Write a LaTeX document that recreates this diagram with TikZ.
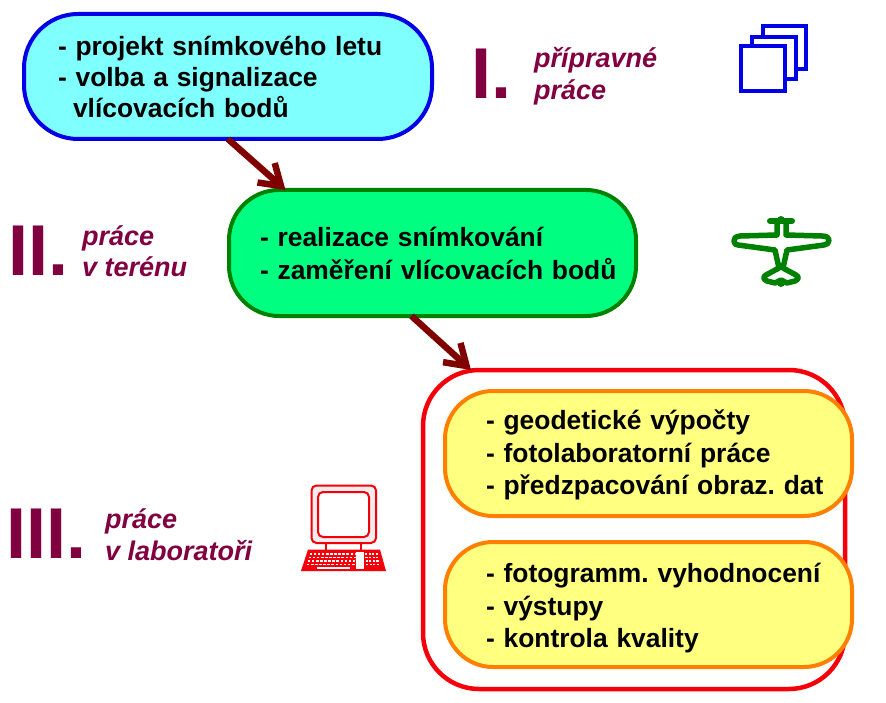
\documentclass[tikz,border=0pt]{standalone}
\usepackage{fontspec}
\setmainfont{Liberation Sans}
\usetikzlibrary{arrows.meta,calc}
\definecolor{bluel}{RGB}{0,0,230}
\definecolor{cyanf}{RGB}{128,255,255}
\definecolor{greenf}{RGB}{0,255,128}
\definecolor{greenl}{RGB}{0,128,0}
\definecolor{redl}{RGB}{245,0,10}
\definecolor{yellowf}{RGB}{255,255,128}
\definecolor{orangel}{RGB}{255,128,0}
\definecolor{plum}{RGB}{128,0,64}
\definecolor{arrowc}{RGB}{128,0,0}
\definecolor{bezel}{RGB}{242,236,236}
\tikzset{
 boxbase/.style={rounded corners=#1,line width=4pt,outer sep=0pt,inner ysep=0pt,inner xsep=0pt,font=\fontsize{26.4}{31}\selectfont\bfseries\frenchspacing,align=left,anchor=north west},
 bluebox/.style={boxbase=54pt,draw=bluel,fill=cyanf,minimum width=408pt,minimum height=125pt,text width=408pt,execute at begin node={\leftskip=34pt\relax}},
 greenbox/.style={boxbase=50pt,draw=greenl,fill=greenf,minimum width=407pt,minimum height=126pt,text width=407pt,execute at begin node={\leftskip=31pt\baselineskip=33pt\relax}},
 outerbox/.style={boxbase=56pt,line width=4.5pt,draw=redl,minimum width=422pt,minimum height=319pt},
 yellowbox/.style={boxbase=48pt,draw=orangel,fill=yellowf,minimum width=407pt,minimum height=125pt,text width=407pt,execute at begin node={\leftskip=41pt\baselineskip=32.5pt\relax}},
 numeral/.style={anchor=base west,inner sep=0pt,text=plum,font=\fontsize{72}{72}\selectfont\bfseries},
 phase/.style={anchor=base west,inner sep=0pt,text=plum,align=left,font=\fontsize{27}{32}\selectfont\bfseries\itshape},
 flow/.style={draw=arrowc,line width=6.5pt,-{Straight Barb[length=20pt,width=26pt,line width=6.5pt]}},
 pagesheet/.style={draw=bluel,line width=4.5pt,fill=white},
}
\begin{document}
\begin{tikzpicture}[x=1pt,y=-1pt]
\useasboundingbox (0,0) rectangle (886,703);
% boxes
\node[bluebox] (a) at (24,14) {- projekt snímkového letu\\- volba a signalizace\\\hspace*{15pt}vlícovacích bodů};
\node[greenbox] (b) at (229,190) {- realizace snímkování\\- zaměření vlícovacích bodů};
\node[outerbox] (c) at (423,370) {};
\node[yellowbox] (d) at (445,391) {\rule{0pt}{23pt}- geodetické výpočty\\- fotolaboratorní práce\\- předzpacování obraz. dat};
\node[yellowbox] (e) at (445,542) {\rule{0pt}{27pt}- fotogramm. vyhodnocení\\- výstupy\\- kontrola kvality};
% arrows
\draw[flow] (a.south) -- ([xshift=-147pt]b.north);
\draw[flow] ([xshift=-21pt]b.south) -- ([xshift=-163pt]c.north);
% numerals and labels
\node[numeral] (n1) at (471,99) {I.};
\node[phase] (l1) at (534,100) {přípravné\\práce};
\node[numeral] (n2) at (8,276) {II.};
\node[phase] (l2) at (82,277) {práce\\v terénu};
\node[numeral] (n3) at (6,558) {III.};
\node[phase] (l3) at (105,560) {práce\\v laboratoři};
% pages icon
\draw[pagesheet] (763,26) rectangle (806,69);
\draw[pagesheet] (752,37) rectangle (796,79);
\draw[pagesheet] (741,46) rectangle (785,91);
% plane icon
\draw[greenl,line width=5.5pt,line cap=round,line join=round,fill=white]
 (777,222) -- (777,235) -- (740,236) .. controls (735,237) and (734,238) .. (734,241)
 .. controls (734,244) and (736,245) .. (738,245) -- (775,250) -- (779,268) -- (766,275)
 .. controls (763,277) and (763,279) .. (767,281) -- (775,283) -- (781,280) -- (787,283) -- (795,281)
 .. controls (799,279) and (799,277) .. (796,275) -- (783,268) -- (787,250) -- (824,245)
 .. controls (827,245) and (829,243) .. (829,240) .. controls (829,238) and (827,236) .. (822,236)
 -- (786,235) -- (786,222);
\draw[greenl,line width=6pt,line cap=round] (770,221) -- (792,221);
\fill[greenl] (781,220) circle (4pt) (781,283) circle (4pt);
% computer icon
\begin{scope}[redl]
\draw[line width=2pt,fill=bezel,rounded corners=5pt] (311.5,485.5) rectangle (376,543);
\draw[line width=2pt,fill=white,rounded corners=5pt] (318,492) rectangle (369,537);
\draw[line width=1.7pt] (326,543) -- (326,550) (361,543) -- (361,550);
\fill (308,549.5) -- (380,549.5) -- (386,571) -- (301,571) -- cycle;
\foreach \r/\y/\s in {0/553/0,1/556.5/0.9,2/560/1.8,3/563.5/2.7} {
  \foreach \k in {0,...,11} \fill[white] ({309.5-\s+\k*4.1},\y) rectangle ++(2.6,1.9);
  \foreach \k in {0,...,3} \fill[white] ({365+\s*.35+\k*3.6},\y) rectangle ++(2.2,1.9);
}
\fill[white] (355.5,552) rectangle (363.5,569);
\fill[white] (317,566.5) rectangle (350,569);
\end{scope}
\end{tikzpicture}
\end{document}
